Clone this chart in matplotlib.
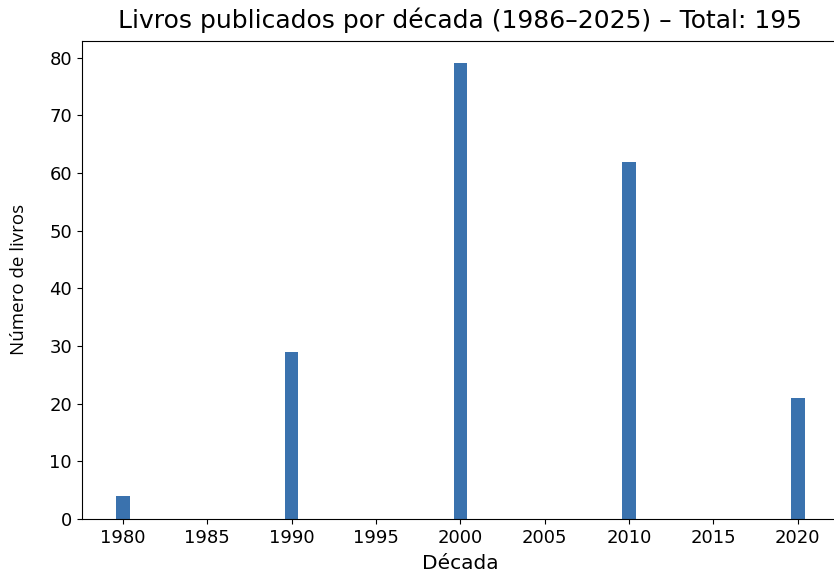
import matplotlib.pyplot as plt

decadas = [1980, 1990, 2000, 2010, 2020]
livros = [4, 29, 79, 62, 21]
total = sum(livros)

fig = plt.figure(figsize=(8.34, 5.73), dpi=100)
ax = fig.add_axes([0.098, 0.094, 0.908, 0.835])

ax.bar(decadas, livros, width=0.8, color="#3a72ae")
ax.set_xlim(1977.56, 2022.44)
ax.set_xticks(range(1980, 2021, 5))
ax.tick_params(labelsize=13)
ax.set_title(f"Livros publicados por década (1986–2025) – Total: {total}",
             fontsize=18, pad=9)
ax.set_xlabel("Década", fontsize=14.5, labelpad=5)
ax.set_ylabel("Número de livros", fontsize=13.5, family="Open Sans", labelpad=15)

fig.savefig("out.png", dpi=100)
